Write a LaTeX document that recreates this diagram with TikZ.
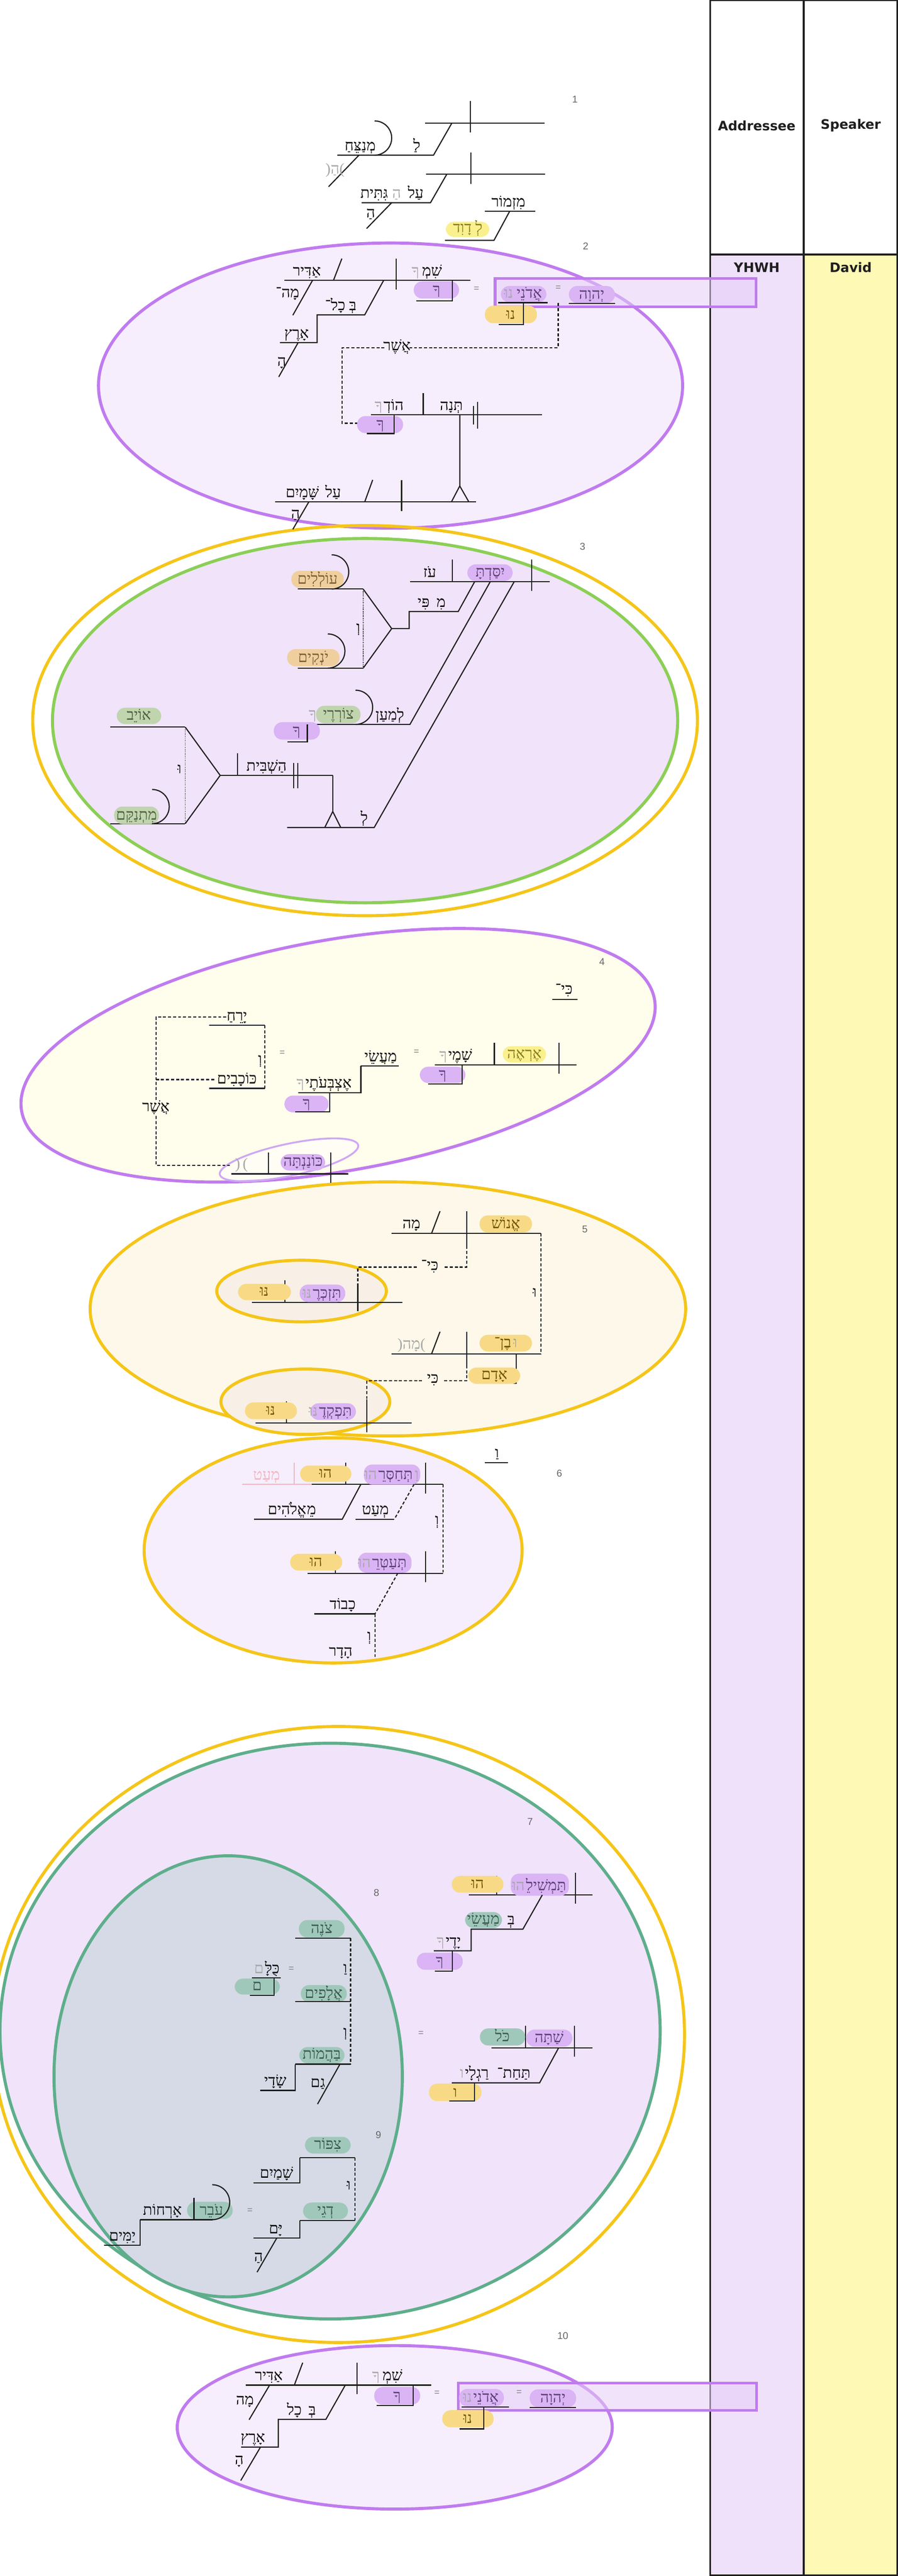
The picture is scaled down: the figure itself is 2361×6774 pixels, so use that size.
\documentclass[tikz,border=0pt]{standalone}
\usepackage{fontspec}
\setmainfont{Liberation Serif}
\newfontfamily\hebfont[Script=Hebrew]{Liberation Serif}
\newfontfamily\hdfont{DejaVu Sans}
\newfontfamily\numfont{Liberation Sans}
\TeXXeTstate=1
\newcommand{\hbw}[1]{\beginR #1\endR}
\definecolor{purl}{HTML}{C07BEF}
\definecolor{lpurl}{HTML}{CDA8F5}
\definecolor{lp}{HTML}{F6EEFC}
\definecolor{lp2}{HTML}{F0E3FA}
\definecolor{yel}{HTML}{F5C518}
\definecolor{grn}{HTML}{8BCF55}
\definecolor{tealc}{HTML}{5EAE8B}
\definecolor{vfour}{HTML}{FFFDEB}
\definecolor{vfive}{HTML}{FDF8E9}
\definecolor{vfivein}{HTML}{F8F0E6}
\definecolor{veight}{HTML}{D5DAE6}
\definecolor{colY}{HTML}{F0E1FA}
\definecolor{colD}{HTML}{FFF9B6}
\definecolor{pur}{HTML}{DAB4F5}
\definecolor{purt}{HTML}{5A3F72}
\definecolor{ylw}{HTML}{F8DA86}
\definecolor{ylwt}{HTML}{6E5300}
\definecolor{dyl}{HTML}{FAF08E}
\definecolor{dylt}{HTML}{8A7B20}
\definecolor{org}{HTML}{F0CF9E}
\definecolor{orgt}{HTML}{7A5D35}
\definecolor{gpl}{HTML}{C0D4AE}
\definecolor{gplt}{HTML}{4D5E40}
\definecolor{tpl}{HTML}{9FC8BA}
\definecolor{tplt}{HTML}{3B5950}
\definecolor{pinkc}{HTML}{F3B3C0}
\definecolor{rectf}{HTML}{E6CEF7}
\colorlet{gr}{black!35}
\tikzset{
  ln/.style={line width=0.75pt, black!88},
  dsh/.style={line width=0.75pt, black!88, dash pattern=on 2pt off 1.3pt},
  dotl/.style={line width=0.45pt, black!80, dash pattern=on 0.6pt off 0.6pt},
  w/.style={font=\hebfont\fontsize{10}{12}\selectfont, inner sep=0pt, anchor=base},
  wc/.style={w, anchor=center},
  num/.style={font=\numfont\fontsize{6.5}{8}\selectfont, text=black!60, inner sep=0pt},
  eq/.style={font=\numfont\fontsize{6}{7}\selectfont, text=black!50, inner sep=0pt},
  hd/.style={font=\hdfont\bfseries\fontsize{8.6}{10}\selectfont, text=black!88, inner sep=0pt},
  pill/.style={rounded corners=5.5pt},
  bigell/.style={line width=2pt},
  rbox/.style={draw=purl, line width=1.75pt, fill=rectf, fill opacity=0.55},
}
\begin{document}
\begin{tikzpicture}[x=0.25pt,y=-0.25pt]
\useasboundingbox (0,0) rectangle (2361,6774);
\fill[white] (0,0) rectangle (2361,6774);
% ---------- columns ----------
\fill[colY] (1867,669) rectangle (2114,6772);
\fill[colD] (2114,669) rectangle (2359,6772);
\draw[line width=1pt, black!88] (1867,1) rectangle (2359,6772);
\draw[line width=1.4pt, black!88] (2114,0) -- (2114,6772);
\draw[line width=1.4pt, black!88] (1867,669) -- (2359,669);
\node[hd] (hA) at (1990,330) {Addressee};
\node[hd] (hS) at (2237,330) {Speaker};
\node[hd] (hY) at (1990,703) {YHWH};
\node[hd] (hD) at (2237,703) {David};
% ---------- ellipses ----------
\draw[purl,bigell,fill=lp] (1027,1014) ellipse [x radius=192pt, y radius=93.75pt];
\draw[yel,bigell] (960,1895) ellipse [x radius=218.5pt, y radius=128.25pt];
\draw[grn,bigell,fill=lp2] (960,1895) ellipse [x radius=205.5pt, y radius=119.75pt];
\draw[purl,bigell,fill=vfour,rotate around={10:(889,2775)}] (889,2775) ellipse [x radius=211.25pt, y radius=76pt];
\draw[lpurl,line width=1.2pt,fill=white,fill opacity=0.45,rotate around={12:(760,3050)}] (760,3050) ellipse [x radius=46.5pt, y radius=10.5pt];
\draw[yel,bigell,fill=vfive] (1020,3442) ellipse [x radius=195.75pt, y radius=83.5pt];
\draw[yel,bigell,fill=vfivein] (793,3395) ellipse [x radius=55.75pt, y radius=20.25pt];
\draw[yel,bigell,fill=vfivein] (803,3686) ellipse [x radius=55.5pt, y radius=21.5pt];
\draw[yel,bigell,fill=lp] (876,4077) ellipse [x radius=124.25pt, y radius=74pt];
\draw[yel,bigell] (890,5350) ellipse [x radius=227.5pt, y radius=202.5pt];
\draw[tealc,bigell,fill=lp2] (868,5341) ellipse [x radius=217pt, y radius=189.25pt];
\draw[tealc,bigell,fill=veight] (600,5460) ellipse [x radius=114.5pt, y radius=145pt];
\draw[purl,bigell,fill=lp] (1038,6383) ellipse [x radius=143pt, y radius=53.75pt];
\draw[rbox] (1302,732) rectangle (1988,807);
\draw[rbox] (1205,6267) rectangle (1989,6338);
% ---------- verse numbers ----------
\node[num] (n1) at (1512,262) {1};
\node[num] (n2) at (1540,648) {2};
\node[num] (n3) at (1532,1437) {3};
\node[num] (n4) at (1583,2529) {4};
\node[num] (n5) at (1538,3233) {5};
\node[num] (n6) at (1471,3874) {6};
\node[num] (n7) at (1394,4791) {7};
\node[num] (n8) at (990,4977) {8};
\node[num] (n9) at (995,5614) {9};
\node[num] (n10) at (1480,6142) {10};
% ---------- verse 1 ----------
\draw[ln] (1118,324) -- (1432,324);
\draw[ln] (1237,266) -- (1237,348);
\draw[ln] (1188,324) -- (1140,408) -- (887,408);
\draw[ln] (985,318) arc[start angle=90,end angle=-90,radius=11.25pt];
\draw[ln] (944,408) -- (864,491);
\node[w] (a1) at (1096,396) {\hbw{לַ}};
\node[w] (a2) at (947,396) {\hbw{מְנַצֵּחַ}};
\node[wc,text=gr] (a3) at (881,448) {(\hbw{הַ})};
\draw[ln] (1120,458) -- (1434,458);
\draw[ln] (1238,401) -- (1238,483);
\draw[ln] (1175,458) -- (1132,533) -- (951,533);
\node[w] (a4) at (1093,521) {\hbw{עַל}};
\node[w,text=gr] (a5) at (1043,521) {\hbw{הַ}};
\node[w] (a6) at (984,521) {\hbw{גִּתִּית}};
\draw[ln] (1030,533) -- (964,601);
\node[wc] (a7) at (975,563) {\hbw{הַ}};
\node[w] (a8) at (1337,544) {\hbw{מִזְמוֹר}};
\draw[ln] (1275,556) -- (1407,556);
\draw[ln] (1340,556) -- (1299,632) -- (1170,632);
\fill[dyl,pill] (1172,583) rectangle (1287,623);
\node[w,text=dylt] (a9) at (1230,612) {\hbw{לְ דָוִד}};
% ---------- verse 2 ----------
\draw[ln] (748,737) -- (1237,737);
\draw[ln] (1042,680) -- (1042,761);
\draw[ln] (899,680) -- (877,737);
\draw[ln] (822,737) -- (770,829);
\draw[ln] (1009,737) -- (959,828) -- (834,828) -- (834,901) -- (736,901);
\draw[ln] (784,901) -- (733,991);
\node[w] (b1) at (807,725) {\hbw{אַדִּיר}};
\node[w] (b2) at (1136,725) {\hbw{שִׁמְ}};
\node[w,text=gr,anchor=base east] (b2g) at ([xshift=-1.5pt]b2.base west) {\hbw{ךָ}};
\node[wc] (b3) at (756,772) {\hbw{מָה־}};
\node[w] (b4) at (896,816) {\hbw{בְּ כָל־}};
\node[w] (b5) at (780,889) {\hbw{אָרֶץ}};
\node[wc] (b6) at (741,954) {\hbw{הָ}};
\fill[pur,pill] (1088,740) rectangle (1207,785);
\node[w,text=purt] (b7) at (1148,774) {\hbw{ךָ}};
\draw[ln] (1190,737) -- (1190,791) -- (1094,791);
\node[eq] (b8) at (1253,760) {=};
\fill[pur,pill] (1317,752) rectangle (1437,795);
\node[w,text=purt] (b9) at (1392,784) {\hbw{אֲדֹנֵי}};
\node[w,text=gr,anchor=base east] (b9g) at ([xshift=-2pt]b9.base west) {\hbw{נוּ}};
\draw[ln] (1310,796) -- (1440,796);
\node[eq] (b10) at (1468,757) {=};
\fill[pur,pill] (1496,752) rectangle (1617,797);
\node[w,text=purt] (b11) at (1556,786) {\hbw{יְהוָה}};
\draw[ln] (1496,798) -- (1617,798);
\fill[ylw,pill] (1275,804) rectangle (1412,850);
\node[w,text=ylwt] (b12) at (1343,839) {\hbw{נוּ}};
\draw[ln] (1376,797) -- (1376,853) -- (1312,853);
\draw[dsh] (1468,797) -- (1468,914) -- (1077,914);
\draw[dsh] (1011,914) -- (900,914) -- (900,1113) -- (983,1113);
\node[wc] (b13) at (1044,912) {\hbw{אֲשֶׁר}};
\draw[ln] (975,1091) -- (1425,1091);
\draw[ln] (1113,1034) -- (1113,1091);
\node[w] (b14) at (1035,1079) {\hbw{הוֹדְ}};
\node[w,text=gr,anchor=base east] (b14g) at ([xshift=-0.5pt]b14.base west) {\hbw{ךָ}};
\node[w] (b15) at (1187,1079) {\hbw{תְּנָה}};
\draw[ln] (1245,1067) -- (1245,1117);
\draw[ln] (1256,1057) -- (1256,1127);
\fill[pur,pill] (939,1094) rectangle (1060,1139);
\node[w,text=purt] (b16) at (1000,1128) {\hbw{ךָ}};
\draw[ln] (1036,1091) -- (1036,1140) -- (964,1140);
\draw[ln] (1209,1091) -- (1209,1278) -- (1187,1320);
\draw[ln] (1209,1278) -- (1233,1320);
\draw[ln] (724,1320) -- (1252,1320);
\draw[ln] (1056,1262) -- (1056,1344);
\draw[ln] (980,1262) -- (959,1320);
\draw[ln] (812,1320) -- (770,1392);
\node[w] (b17) at (876,1308) {\hbw{עַל}};
\node[w] (b18) at (795,1308) {\hbw{שָּׁמָיִם}};
\node[wc] (b19) at (777,1354) {\hbw{הַ}};
% ---------- verse 3 ----------
\draw[ln] (1078,1530) -- (1445,1530);
\draw[ln] (1398,1471) -- (1398,1554);
\draw[ln] (1189,1471) -- (1189,1530);
\fill[pur,pill] (1229,1484) rectangle (1348,1528);
\node[w,text=purt] (c1) at (1289,1517) {\hbw{יִסַּדְתָּ}};
\node[w] (c2) at (1130,1518) {\hbw{עֹז}};
\draw[ln] (1248,1530) -- (1205,1608) -- (1076,1608) -- (1076,1653) -- (1030,1653);
\node[w] (c3) at (1160,1596) {\hbw{מִ}};
\node[w] (c4) at (1114,1596) {\hbw{פִּי}};
\draw[ln] (955,1549) -- (1030,1653) -- (955,1757);
\draw[ln] (783,1549) -- (955,1549);
\draw[ln] (783,1757) -- (955,1757);
\draw[dotl] (955,1549) -- (955,1757);
\node[wc] (c5) at (942,1655) {\hbw{וְ}};
\fill[org,pill] (766,1501) rectangle (904,1546);
\node[w,text=orgt] (c6) at (835,1535) {\hbw{עוֹלְלִים}};
\draw[ln] (872,1459) arc[start angle=90,end angle=-90,radius=11.25pt];
\fill[org,pill] (755,1707) rectangle (893,1752);
\node[w,text=orgt] (c7) at (824,1741) {\hbw{יֹנְקִים}};
\draw[ln] (862,1667) arc[start angle=90,end angle=-90,radius=11.25pt];
\draw[ln] (1289,1530) -- (1078,1905) -- (808,1905);
\node[w] (c8) at (1025,1893) {\hbw{לְמַעַן}};
\fill[gpl,pill] (831,1856) rectangle (948,1902);
\node[w,text=gplt] (c9) at (890,1891) {\hbw{צוֹרְרֶי}};
\node[w,text=gr] (c9g) at (822,1891) {\hbw{ךָ}};
\draw[ln] (935,1815) arc[start angle=90,end angle=-90,radius=11.25pt];
\fill[pur,pill] (720,1899) rectangle (841,1945);
\node[w,text=purt] (c10) at (780,1934) {\hbw{ךָ}};
\draw[ln] (808,1905) -- (808,1951) -- (756,1951);
\draw[ln] (1352,1530) -- (984,2176) -- (755,2176);
\node[w] (c11) at (958,2164) {\hbw{לְ}};
\draw[ln] (875,2039) -- (875,2134);
\draw[ln] (854,2176) -- (875,2134) -- (896,2176);
\draw[ln] (579,2039) -- (875,2039);
\draw[ln] (772,2006) -- (772,2073);
\draw[ln] (783,2006) -- (783,2073);
\draw[ln] (625,1981) -- (625,2039);
\node[w] (c12) at (701,2027) {\hbw{הַשְׁבִּית}};
\draw[ln] (487,1912) -- (579,2039) -- (487,2166);
\draw[ln] (290,1912) -- (487,1912);
\draw[ln] (290,2166) -- (487,2166);
\draw[dotl] (487,1912) -- (487,2166);
\fill[gpl,pill] (307,1861) rectangle (424,1904);
\node[w,text=gplt] (c13) at (365,1893) {\hbw{אוֹיֵב}};
\node[wc] (c14) at (472,2022) {\hbw{וּ}};
\fill[gpl,pill] (300,2121) rectangle (418,2167);
\node[w,text=gplt] (c15) at (359,2156) {\hbw{מִתְנַקֵּם}};
\draw[ln] (400,2076) arc[start angle=90,end angle=-90,radius=11.25pt];
% ---------- verse 4 ----------
\node[w] (d1) at (1483,2614) {\hbw{כִּי־}};
\draw[ln] (1452,2628) -- (1519,2628);
\draw[ln] (1144,2800) -- (1516,2800);
\draw[ln] (1470,2742) -- (1470,2824);
\draw[ln] (1300,2742) -- (1300,2800);
\fill[dyl,pill] (1322,2751) rectangle (1436,2794);
\node[w,text=dylt] (d2) at (1379,2783) {\hbw{אֶרְאֶה}};
\node[w] (d3) at (1210,2788) {\hbw{שָׁמֶי}};
\node[w,text=gr,anchor=base east] (d3g) at ([xshift=-0.5pt]d3.base west) {\hbw{ךָ}};
\fill[pur,pill] (1104,2805) rectangle (1224,2848);
\node[w,text=purt] (d4) at (1164,2837) {\hbw{ךָ}};
\draw[ln] (1215,2800) -- (1215,2850) -- (1126,2850);
\node[eq] (d5) at (1095,2767) {=};
\node[w] (d6) at (1001,2791) {\hbw{מַעֲשֵׂי}};
\draw[ln] (949,2803) -- (1048,2803);
\draw[ln] (949,2803) -- (949,2873) -- (784,2873);
\node[w] (d7) at (864,2861) {\hbw{אֶצְבְּעֹתֶי}};
\node[w,text=gr,anchor=base east] (d7g) at ([xshift=-0.5pt]d7.base west) {\hbw{ךָ}};
\fill[pur,pill] (748,2881) rectangle (864,2925);
\node[w,text=purt] (d8) at (806,2914) {\hbw{ךָ}};
\draw[ln] (867,2873) -- (867,2924) -- (776,2924);
\node[eq] (d9) at (742,2769) {=};
\node[w] (d10) at (623,2684) {\hbw{יָרֵחַ}};
\draw[ln] (550,2696) -- (697,2696);
\draw[dsh] (696,2696) -- (696,2862);
\node[wc] (d11) at (684,2790) {\hbw{וְ}};
\node[w] (d12) at (623,2850) {\hbw{כּוֹכָבִים}};
\draw[ln] (550,2862) -- (697,2862);
\draw[dsh] (595,2674) -- (410,2674) -- (410,2895);
\draw[dsh] (410,2839) -- (566,2839);
\node[wc] (d13) at (410,2912) {\hbw{אֲשֶׁר}};
\draw[dsh] (410,2935) -- (410,3064) -- (604,3064);
\draw[ln] (608,3087) -- (916,3087);
\draw[ln] (706,3030) -- (706,3087);
\draw[ln] (870,3030) -- (870,3111);
\node[wc,text=gr] (d14) at (635,3064) {(\,)};
\fill[pur,pill] (738,3035) rectangle (855,3078);
\node[w,text=purt] (d15) at (797,3067) {\hbw{כּוֹנַנְתָּה}};
% ---------- verse 5 ----------
\draw[ln] (1030,3243) -- (1422,3243);
\draw[ln] (1227,3185) -- (1227,3276);
\draw[ln] (1157,3185) -- (1135,3243);
\node[w] (e1) at (1082,3231) {\hbw{מָה}};
\fill[ylw,pill] (1261,3196) rectangle (1399,3241);
\node[w,text=ylwt] (e2) at (1330,3230) {\hbw{אֱנוֹשׁ}};
\draw[dsh] (1227,3276) -- (1227,3332) -- (1166,3332);
\node[wc] (e3) at (1130,3330) {\hbw{כִּי־}};
\draw[dsh] (1096,3332) -- (941,3332) -- (941,3375);
\draw[ln] (941,3375) -- (941,3448);
\draw[ln] (663,3425) -- (1058,3425);
\draw[ln] (749,3366) -- (749,3425);
\fill[pur,pill] (788,3378) rectangle (908,3424);
\node[w,text=purt] (e4) at (860,3413) {\hbw{תִּזְכְּרֶ}};
\node[w,text=gr,anchor=base east] (e4g) at ([xshift=-0.5pt]e4.base west) {\hbw{נּוּ}};
\fill[ylw,pill] (626,3376) rectangle (765,3419);
\node[w,text=ylwt] (e5) at (695,3408) {\hbw{נּוּ}};
\draw[dsh] (1422,3243) -- (1422,3560);
\node[wc] (e6) at (1406,3399) {\hbw{וּ}};
\draw[ln] (1030,3560) -- (1422,3560);
\draw[ln] (1227,3502) -- (1227,3590);
\draw[ln] (1157,3502) -- (1135,3560);
\node[w,text=gr] (e7) at (1082,3548) {(\hbw{מָה})};
\fill[ylw,pill] (1261,3510) rectangle (1399,3554);
\node[w,text=ylwt] (e8) at (1322,3543) {\hbw{בֶן־}};
\node[w,text=gr,anchor=base west] (e8g) at ([xshift=1pt]e8.base east) {\hbw{וּ}};
\draw[ln] (1357,3560) -- (1357,3637) -- (1263,3637);
\fill[ylw,pill] (1231,3596) rectangle (1368,3639);
\node[w,text=ylwt] (e9) at (1300,3628) {\hbw{אָדָם}};
\draw[dsh] (1227,3590) -- (1227,3631) -- (1166,3631);
\node[wc] (e10) at (1138,3629) {\hbw{כִּי}};
\draw[dsh] (1110,3631) -- (965,3631) -- (965,3680);
\draw[ln] (965,3680) -- (965,3766);
\draw[ln] (672,3742) -- (1082,3742);
\draw[ln] (753,3685) -- (753,3742);
\fill[pur,pill] (816,3690) rectangle (936,3734);
\node[w,text=purt] (e11) at (882,3723) {\hbw{תִּפְקְדֶ}};
\node[w,text=gr,anchor=base east] (e11g) at ([xshift=-0.5pt]e11.base west) {\hbw{נּוּ}};
\fill[ylw,pill] (644,3688) rectangle (781,3732);
\node[w,text=ylwt] (e12) at (712,3721) {\hbw{נּוּ}};
% ---------- verse 6 ----------
\node[w] (f1) at (1307,3834) {\hbw{וַ}};
\draw[ln] (1275,3846) -- (1336,3846);
\draw[pinkc,line width=0.75pt] (637,3903) -- (819,3903);
\draw[pinkc,line width=0.6pt] (774,3846) -- (774,3903);
\node[w,text=pinkc] (f2) at (701,3891) {\hbw{מְעַט}};
\draw[ln] (819,3903) -- (1165,3903);
\draw[ln] (1119,3846) -- (1119,3927);
\draw[ln] (909,3846) -- (909,3903);
\fill[ylw,pill] (789,3854) rectangle (924,3897);
\node[w,text=ylwt] (f3) at (856,3886) {\hbw{הוּ}};
\fill[pur,pill] (957,3851) rectangle (1105,3904);
\node[w,text=purt] (f4) at (1040,3890) {\hbw{תְּחַסְּרֵ}};
\node[w,text=gr,anchor=base east] (f4g) at ([xshift=-0.5pt]f4.base west) {\hbw{הוּ}};
\node[w,text=gr,anchor=base west] (f4h) at ([xshift=1pt]f4.base east) {\hbw{וַ}};
\draw[ln] (949,3903) -- (900,3995) -- (668,3995);
\node[w] (f5) at (819,3983) {\hbw{מֵ}};
\node[w] (f6) at (755,3983) {\hbw{אֱלֹהִים}};
\draw[dsh] (1089,3903) -- (1037,3995);
\draw[ln] (935,3995) -- (1037,3995);
\node[w] (f7) at (987,3983) {\hbw{מְעַט}};
\draw[dsh] (1165,3903) -- (1165,4137);
\node[wc] (f8) at (1149,4002) {\hbw{וְ}};
\draw[ln] (809,4137) -- (1165,4137);
\draw[ln] (1119,4079) -- (1119,4161);
\draw[ln] (882,4079) -- (882,4137);
\fill[ylw,pill] (763,4086) rectangle (900,4130);
\node[w,text=ylwt] (f9) at (831,4119) {\hbw{הוּ}};
\fill[pur,pill] (942,4083) rectangle (1082,4136);
\node[w,text=purt] (f10) at (1024,4122) {\hbw{תְּעַטְּרֵ}};
\node[w,text=gr,anchor=base east] (f10g) at ([xshift=-0.5pt]f10.base west) {\hbw{הוּ}};
\draw[dsh] (1046,4137) -- (986,4244);
\draw[ln] (826,4244) -- (986,4244);
\node[w] (f11) at (901,4232) {\hbw{כָבוֹד}};
\draw[dsh] (986,4244) -- (986,4358);
\node[wc] (f12) at (971,4307) {\hbw{וְ}};
\node[w] (f13) at (896,4355) {\hbw{הָדָר}};
% ---------- verse 7 ----------
\draw[ln] (1233,4983) -- (1558,4983);
\draw[ln] (1513,4925) -- (1513,5006);
\draw[ln] (1306,4933) -- (1306,4983);
\fill[pur,pill] (1343,4927) rectangle (1496,4985);
\node[w,text=purt] (g1) at (1436,4972) {\hbw{תַּמְשִׁילֵ}};
\node[w,text=gr,anchor=base east] (g1g) at ([xshift=-0.5pt]g1.base west) {\hbw{הוּ}};
\fill[ylw,pill] (1188,4933) rectangle (1324,4977);
\node[w,text=ylwt] (g2) at (1256,4966) {\hbw{הוּ}};
\draw[ln] (1426,4983) -- (1375,5073) -- (1239,5073) -- (1239,5130) -- (1141,5130);
\node[w] (g3) at (1344,5061) {\hbw{בְּ}};
\fill[tpl,pill] (1223,5028) rectangle (1320,5070);
\node[w,text=tplt] (g4) at (1271,5059) {\hbw{מַעֲשֵׂי}};
\node[w] (g5) at (1192,5118) {\hbw{יָדֶי}};
\node[w,text=gr,anchor=base east] (g5g) at ([xshift=-0.5pt]g5.base west) {\hbw{ךָ}};
\fill[pur,pill] (1096,5135) rectangle (1217,5180);
\node[w,text=purt] (g6) at (1156,5169) {\hbw{ךָ}};
\draw[ln] (1190,5130) -- (1190,5183) -- (1143,5183);
\node[eq] (g7) at (1107,5348) {=};
\draw[ln] (1292,5385) -- (1558,5385);
\draw[ln] (1511,5327) -- (1511,5408);
\draw[ln] (1382,5327) -- (1382,5385);
\fill[pur,pill] (1384,5337) rectangle (1505,5382);
\node[w,text=purt] (g8) at (1444,5371) {\hbw{שַׁתָּה}};
\fill[tpl,pill] (1262,5334) rectangle (1381,5379);
\node[w,text=tplt] (g9) at (1321,5368) {\hbw{כֹּל}};
\draw[ln] (1469,5385) -- (1419,5477) -- (1188,5477);
\node[w] (g10) at (1351,5465) {\hbw{תַּחַת־}};
\node[w] (g11) at (1254,5465) {\hbw{רַגְלָי}};
\node[w,text=gr,anchor=base east] (g11g) at ([xshift=-0.5pt]g11.base west) {\hbw{ו}};
\fill[ylw,pill] (1128,5479) rectangle (1266,5525);
\node[w,text=ylwt] (g12) at (1197,5514) {\hbw{ו}};
\draw[ln] (1248,5477) -- (1248,5525) -- (1181,5525);
% ---------- verse 8 ----------
\fill[tpl,pill] (786,5049) rectangle (906,5095);
\node[w,text=tplt] (h1) at (846,5084) {\hbw{צֹנֶה}};
\draw[ln] (776,5097) -- (923,5097);
\draw[dsh] (922,5097) -- (922,5428);
\node[wc] (h2) at (908,5178) {\hbw{וַ}};
\node[wc] (h3) at (908,5348) {\hbw{וְ}};
\fill[tpl,pill] (791,5220) rectangle (912,5265);
\node[w,text=tplt] (h4) at (851,5254) {\hbw{אֲלָפִים}};
\draw[ln] (776,5263) -- (923,5263);
\node[w] (h5) at (716,5189) {\hbw{כֻּלָּ}};
\node[w,text=gr,anchor=base east] (h5g) at ([xshift=-0.5pt]h5.base west) {\hbw{ם}};
\draw[ln] (663,5201) -- (738,5201);
\node[eq] (h6) at (766,5178) {=};
\fill[tpl,pill] (617,5203) rectangle (736,5245);
\node[w,text=tplt] (h7) at (676,5234) {\hbw{ם}};
\draw[ln] (721,5201) -- (721,5247) -- (657,5247);
\fill[tpl,pill] (787,5383) rectangle (906,5426);
\node[w,text=tplt] (h8) at (846,5415) {\hbw{בַּהֲמוֹת}};
\draw[ln] (776,5428) -- (923,5428);
\draw[ln] (776,5428) -- (776,5497) -- (684,5497);
\node[w] (h9) at (724,5485) {\hbw{שָׂדָי}};
\draw[ln] (894,5428) -- (835,5533);
\node[wc] (h10) at (836,5479) {\hbw{גַם}};
% ---------- verse 9 ----------
\fill[tpl,pill] (802,5619) rectangle (922,5663);
\node[w,text=tplt] (i1) at (862,5652) {\hbw{צִפּוֹר}};
\draw[ln] (788,5674) -- (933,5674);
\draw[ln] (788,5674) -- (788,5740) -- (667,5740);
\node[w] (i2) at (727,5728) {\hbw{שָׁמַיִם}};
\draw[dsh] (933,5674) -- (933,5839);
\node[wc] (i3) at (917,5747) {\hbw{וּ}};
\fill[tpl,pill] (797,5792) rectangle (915,5836);
\node[w,text=tplt] (i4) at (856,5825) {\hbw{דְגֵי}};
\draw[ln] (788,5839) -- (933,5839);
\draw[ln] (788,5839) -- (788,5885) -- (667,5885);
\node[w] (i5) at (725,5873) {\hbw{יָּם}};
\draw[ln] (728,5885) -- (676,5975);
\node[wc] (i6) at (680,5937) {\hbw{הַ}};
\node[eq] (i7) at (657,5813) {=};
\fill[tpl,pill] (492,5790) rectangle (612,5835);
\node[w,text=tplt] (i8) at (556,5825) {\hbw{עֹבֵר}};
\draw[ln] (510,5780) -- (510,5837);
\draw[ln] (369,5837) -- (560,5837);
\draw[ln] (558,5745) arc[start angle=90,end angle=-90,radius=11.5pt];
\node[w] (i9) at (427,5825) {\hbw{אָרְחוֹת}};
\draw[ln] (369,5837) -- (369,5904) -- (273,5904);
\node[w] (i10) at (322,5892) {\hbw{יַמִּים}};
% ---------- verse 10 ----------
\draw[ln] (646,6272) -- (1134,6272);
\draw[ln] (939,6213) -- (939,6295);
\draw[ln] (796,6213) -- (774,6272);
\node[w] (j1) at (707,6260) {\hbw{אַדִּיר}};
\node[w] (j2) at (1032,6260) {\hbw{שִׁמְ}};
\node[w,text=gr,anchor=base east] (j2g) at ([xshift=-1.5pt]j2.base west) {\hbw{ךָ}};
\fill[pur,pill] (984,6277) rectangle (1105,6323);
\node[w,text=purt] (j3) at (1044,6312) {\hbw{ךָ}};
\draw[ln] (1087,6272) -- (1087,6325) -- (991,6325);
\node[eq] (j4) at (1149,6293) {=};
\fill[pur,pill] (1207,6282) rectangle (1325,6328);
\node[w,text=purt] (j5) at (1278,6317) {\hbw{אֲדֹנֵי}};
\node[w,text=gr,anchor=base east] (j5g) at ([xshift=-0.5pt]j5.base west) {\hbw{נוּ}};
\draw[ln] (1214,6330) -- (1339,6330);
\node[eq] (j6) at (1365,6292) {=};
\fill[pur,pill] (1393,6283) rectangle (1515,6330);
\node[w,text=purt] (j7) at (1454,6318) {\hbw{יְהוָה}};
\draw[ln] (1393,6331) -- (1515,6331);
\fill[ylw,pill] (1163,6338) rectangle (1298,6383);
\node[w,text=ylwt] (j8) at (1230,6372) {\hbw{נוּ}};
\draw[ln] (1272,6330) -- (1272,6387) -- (1209,6387);
\draw[ln] (709,6272) -- (655,6363);
\node[wc] (j9) at (644,6315) {\hbw{מָה}};
\draw[ln] (908,6272) -- (857,6362) -- (732,6362) -- (732,6435) -- (634,6435);
\node[w] (j10) at (821,6350) {\hbw{בְּ}};
\node[w] (j11) at (774,6350) {\hbw{כָל}};
\node[w] (j12) at (665,6423) {\hbw{אָרֶץ}};
\draw[ln] (685,6435) -- (633,6523);
\node[wc] (j13) at (629,6472) {\hbw{הָ}};
\end{tikzpicture}
\end{document}
